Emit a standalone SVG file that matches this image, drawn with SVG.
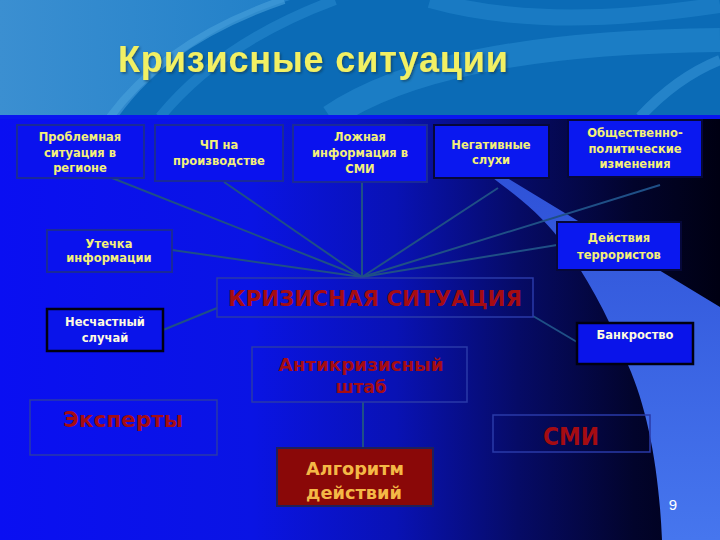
<svg xmlns="http://www.w3.org/2000/svg" width="720" height="540" viewBox="0 0 720 540">
<defs>
<linearGradient id="hdr" x1="0" y1="0" x2="1" y2="0">
<stop offset="0" stop-color="#3b8fd1"/><stop offset="0.5" stop-color="#1a7cc6"/><stop offset="1" stop-color="#1c82cc"/>
</linearGradient>
<linearGradient id="bg" x1="0" y1="0" x2="1" y2="0">
<stop offset="0" stop-color="#0a0ff2"/><stop offset="0.35" stop-color="#0a14e4"/><stop offset="0.55" stop-color="#0912b4"/><stop offset="0.72" stop-color="#060b66"/><stop offset="0.88" stop-color="#02042c"/><stop offset="1" stop-color="#000012"/>
</linearGradient>
<linearGradient id="band" x1="0" y1="0" x2="0" y2="1">
<stop offset="0" stop-color="#2f52d8"/><stop offset="1" stop-color="#4676ee"/>
</linearGradient>
<filter id="sh" x="-5%" y="-20%" width="110%" height="140%">
<feDropShadow dx="1.5" dy="1.5" stdDeviation="0.8" flood-color="#10304a" flood-opacity="0.6"/>
</filter>
<style>
.lbl{font-family:"DejaVu Sans",Verdana,sans-serif;font-weight:bold;font-size:11.5px;fill:#f4f07a;text-anchor:middle}
.wht{fill:#fffbe0}
.red{font-family:"DejaVu Sans",Verdana,sans-serif;font-weight:bold;fill:#a50c12;text-anchor:middle}
.b1{fill:#0a12ee;stroke:#1a2a98;stroke-width:2}
.b2{fill:#0a18f0;stroke:#06083a;stroke-width:2}
.b3{fill:#0a14ea;stroke:#000010;stroke-width:2.5}
.b4{fill:none;stroke:#2a3aa8;stroke-width:1.5}
.con{stroke:#1f4f86;stroke-width:2;fill:none}
</style>
</defs>

<!-- header -->
<rect x="0" y="0" width="720" height="117" fill="url(#hdr)"/>
<path d="M118 117 C160 60 220 22 290 0 L720 0 L720 117 Z" fill="#0b6bb6"/>
<path d="M110 117 C152 60 214 24 284 0" stroke="#4aa2dc" stroke-width="8" fill="none" opacity="0.6"/>
<path d="M160 117 C205 62 265 26 335 0" stroke="#2e92d4" stroke-width="10" fill="none" opacity="0.45"/>
<path d="M330 117 C400 70 520 42 720 40" stroke="#2c90d4" stroke-width="24" fill="none" opacity="0.5"/>
<path d="M430 0 C520 25 620 20 720 5" stroke="#2a8ed2" stroke-width="16" fill="none" opacity="0.45"/>
<path d="M640 117 C665 90 690 72 720 60" stroke="#3e9cdc" stroke-width="10" fill="none" opacity="0.5"/>
<text x="118" y="72" font-family="'Liberation Sans',Arial,sans-serif" font-weight="bold" font-size="36" fill="#f2f064" textLength="390" filter="url(#sh)">Кризисные ситуации</text>

<!-- lower background -->
<rect x="0" y="117" width="720" height="423" fill="url(#bg)"/>
<path d="M493 178 L507 178 L720 307 L720 540 L662 540 C659 470 648 410 628 365 C612 325 590 280 560 240 C540 213 515 195 493 178 Z" fill="url(#band)"/>
<rect x="0" y="115" width="720" height="4" fill="#0a16f0"/>

<!-- connectors -->
<g id="connectors">
<line class="con" x1="112" y1="178" x2="362" y2="277"/>
<line class="con" x1="224" y1="182" x2="362" y2="277"/>
<line class="con" x1="362" y1="182" x2="362" y2="277"/>
<line class="con" x1="498" y1="188" x2="362" y2="277"/>
<line class="con" x1="660" y1="185" x2="362" y2="277"/>
<line class="con" x1="172" y1="250" x2="362" y2="277"/>
<line class="con" x1="557" y1="245" x2="362" y2="277"/>
<line class="con" x1="163" y1="330" x2="217" y2="308"/>
<line class="con" x1="533" y1="316" x2="577" y2="342"/>
<line class="con" x1="363" y1="402" x2="363" y2="448"/>
</g>

<g id="n-problem">
<rect class="b1" x="17" y="125" width="127" height="53"/>
<text class="lbl" x="80" y="141">Проблемная</text>
<text class="lbl" x="80" y="156.5">ситуация в</text>
<text class="lbl" x="80" y="172">регионе</text>
</g>
<g id="n-chp">
<rect class="b1" x="155" y="125" width="128" height="56"/>
<text class="lbl" x="219" y="149">ЧП на</text>
<text class="lbl" x="219" y="165">производстве</text>
</g>
<g id="n-false">
<rect class="b1" x="293" y="125" width="134" height="57"/>
<text class="lbl" x="360" y="141">Ложная</text>
<text class="lbl" x="360" y="157">информация в</text>
<text class="lbl" x="360" y="173">СМИ</text>
</g>
<g id="n-rumors">
<rect class="b2" x="434" y="125" width="115" height="53"/>
<text class="lbl" x="491" y="149">Негативные</text>
<text class="lbl" x="491" y="164">слухи</text>
</g>
<g id="n-social">
<rect class="b2" x="568" y="120" width="134" height="57"/>
<text class="lbl" x="635" y="137">Общественно-</text>
<text class="lbl" x="635" y="153">политические</text>
<text class="lbl" x="635" y="168">изменения</text>
</g>
<g id="n-leak">
<rect class="b1" x="47" y="230" width="125" height="42"/>
<text class="lbl" x="109" y="248">Утечка</text>
<text class="lbl" x="109" y="262">информации</text>
</g>
<g id="n-terror">
<rect class="b2" x="557" y="222" width="124" height="48"/>
<text class="lbl" x="619" y="242">Действия</text>
<text class="lbl" x="619" y="259">террористов</text>
</g>
<g id="n-crisis">
<rect class="b4" x="217" y="278" width="316" height="39"/>
<text class="red" x="375" y="306" font-size="22" textLength="294" lengthAdjust="spacingAndGlyphs" fill="#a00c10">КРИЗИСНАЯ СИТУАЦИЯ</text>
</g>
<g id="n-accident">
<rect class="b3" x="47" y="309" width="116" height="42"/>
<text class="lbl wht" x="105" y="326">Несчастный</text>
<text class="lbl wht" x="105" y="342">случай</text>
</g>
<g id="n-bankrupt">
<rect class="b3" x="577" y="323" width="116" height="41"/>
<text class="lbl wht" x="635" y="339">Банкроство</text>
</g>
<g id="n-hq">
<rect class="b4" x="252" y="347" width="215" height="55"/>
<text class="red" x="361" y="371" font-size="17" textLength="165" lengthAdjust="spacingAndGlyphs" fill="#b0161a">Антикризисный</text>
<text class="red" x="361" y="393" font-size="17" fill="#b0161a">штаб</text>
</g>
<g id="n-experts">
<rect class="b4" x="30" y="400" width="187" height="55" stroke="#1c2cb8"/>
<text class="red" x="123" y="427" font-size="22" textLength="120" lengthAdjust="spacingAndGlyphs" fill="#8c0a2c">Эксперты</text>
</g>
<g id="n-media">
<rect class="b4" x="493" y="415" width="157" height="37" stroke="#2a3a8c"/>
<text class="red" x="571" y="445" font-size="24" textLength="56" lengthAdjust="spacingAndGlyphs" fill="#a00c10">СМИ</text>
</g>
<g id="n-algo">
<rect x="277" y="448" width="156" height="58" fill="#8a0808" stroke="#20205a" stroke-width="2"/>
<text x="355" y="475" font-family="'DejaVu Sans',Verdana,sans-serif" font-weight="bold" font-size="18" fill="#f4b846" text-anchor="middle" textLength="98" lengthAdjust="spacingAndGlyphs">Алгоритм</text>
<text x="354" y="499" font-family="'DejaVu Sans',Verdana,sans-serif" font-weight="bold" font-size="18" fill="#f4b846" text-anchor="middle" textLength="96" lengthAdjust="spacingAndGlyphs">действий</text>
</g>
<text x="673" y="510" font-family="'Liberation Sans',Arial,sans-serif" font-size="15" fill="#ffffff" text-anchor="middle">9</text>
</svg>
